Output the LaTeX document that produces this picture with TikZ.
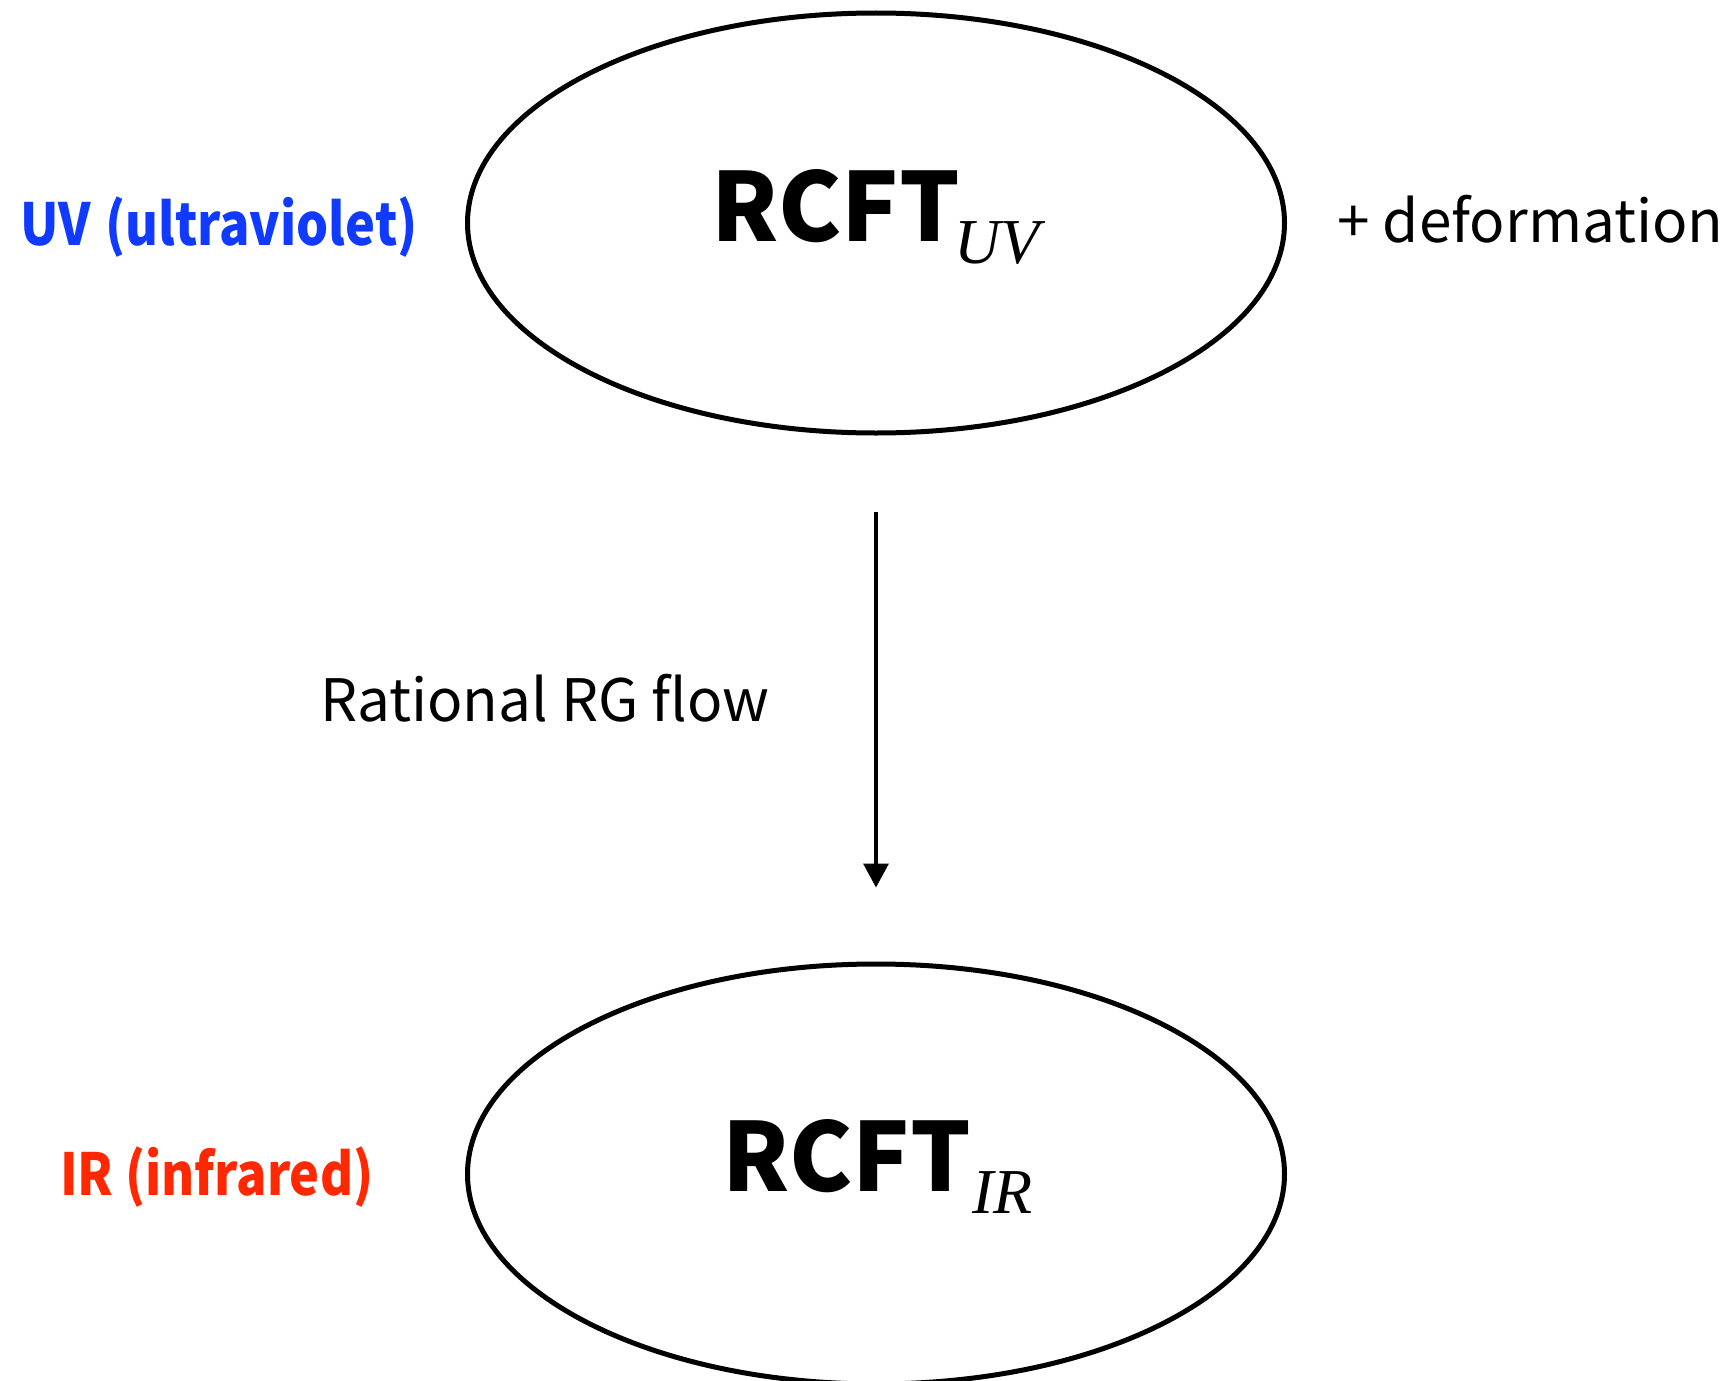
\documentclass[tikz,border=0pt]{standalone}
\usepackage{fontspec}
\usetikzlibrary{shapes.geometric,arrows.meta}
\newfontfamily\gothic{Noto Sans CJK JP}
\newfontfamily\gothicnarrow[FakeStretch=0.87]{Noto Sans CJK JP}
\newfontfamily\serifface{Liberation Serif}
\definecolor{uvblue}{RGB}{16,58,255}
\definecolor{irred}{RGB}{255,40,0}
\begin{document}
\begin{tikzpicture}[x=1pt,y=-1pt,
  field/.style={ellipse, draw, line width=5pt, inner sep=0pt,
    minimum width=817pt, minimum height=420pt},
  txt/.style={inner sep=0pt, anchor=base west},
  big/.style={txt, font=\gothic\bfseries\fontsize{95}{100}\selectfont},
  sub/.style={txt, font=\serifface\itshape\fontsize{64}{66}\selectfont},
  side/.style={txt, font=\gothicnarrow\bfseries\fontsize{58}{62}\selectfont},
  plain/.style={txt, font=\gothic\fontsize{58.5}{62}\selectfont},
  flow/.style={line width=3.5pt, -{Triangle[length=24pt,width=25pt]}}]
  \useasboundingbox (0,0) rectangle (1729,1381);

  % fixed points of the flow
  \node[field] (uv) at (876,223) {};
  \node[field] (ir) at (876,1174) {};

  % theory labels with their subscripts
  \node[big] (rcftuv) at (711,241) {RCFT};
  \node[sub] (subuv) at ([xshift=-6pt,yshift=-22pt]rcftuv.base east) {UV};
  \node[big] (rcftir) at (722,1191) {RCFT};
  \node[sub] (subir) at ([xshift=1pt,yshift=-22pt]rcftir.base east) {IR};

  % side annotations
  \node[side, text=uvblue] (uvlab) at (20,245) {UV\hspace{0.25em}(ultraviolet)};
  \node[side, text=irred] (irlab) at (60,1195) {IR (infrared)};
  \node[plain] (deform) at (1337,242) {+ deformation};
  \node[plain] (rg) at (320,721) {Rational RG flow};

  % the RG flow
  \draw[flow, shorten <=76pt, shorten >=74pt] (uv) -- (ir);
\end{tikzpicture}
\end{document}
